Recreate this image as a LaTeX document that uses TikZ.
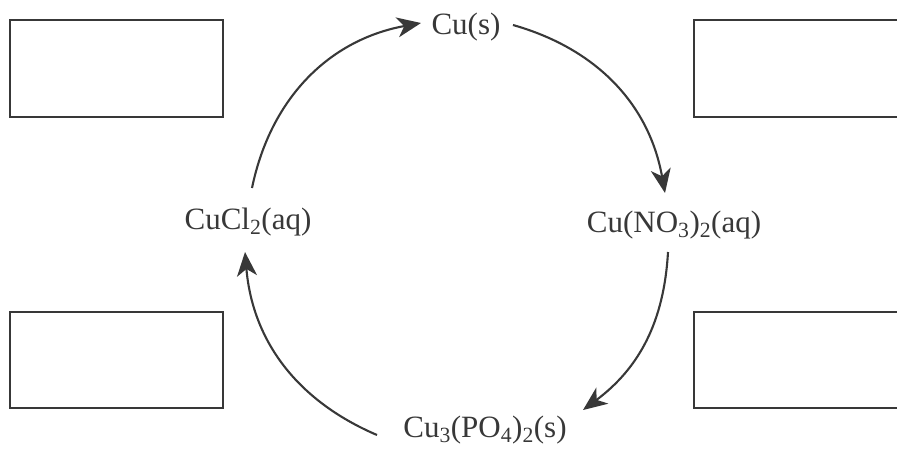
\documentclass[tikz,border=0pt]{standalone}
\usepackage{fontspec}
\setmainfont{Liberation Serif}
\usetikzlibrary{arrows.meta}
\definecolor{ink}{HTML}{383838}
\tikzset{
  chem/.style={anchor=base, inner sep=0pt, text=ink, font=\fontsize{31}{37}\selectfont},
  blank/.style={draw=ink, line width=1.9pt},
  cyc/.style={draw=ink, line width=2.1pt, -{Stealth[length=24pt,width=20pt,inset=7pt]}}
}
\begin{document}
\begin{tikzpicture}[x=1pt,y=-1pt]
\useasboundingbox (0,0) rectangle (897,450);
% answer boxes
\draw[blank] (10,20) rectangle (223,117);
\draw[blank] (694,20) rectangle (905,117);
\draw[blank] (10,312) rectangle (223,408);
\draw[blank] (694,312) rectangle (905,408);
% species
\node[chem] (cus) at (466,34) {Cu(s)};
\node[chem] (cuno) at (674,232) {Cu(NO\textsubscript{3})\textsubscript{2}(aq)};
\node[chem] (cupo) at (485,437) {Cu\textsubscript{3}(PO\textsubscript{4})\textsubscript{2}(s)};
\node[chem] (cucl) at (248,229) {CuCl\textsubscript{2}(aq)};
% arc end points
\coordinate (a1) at (252,188);
\coordinate (b1) at (421,23);
\coordinate (a2) at (513,25);
\coordinate (b2) at (665,193);
\coordinate (a3) at (668,252);
\coordinate (b3) at (583,410);
\coordinate (a4) at (377,435);
\coordinate (b4) at (245,252);
\draw[cyc] (a1) to[bend left=34] (b1);
\draw[cyc] (a2) to[bend left=32] (b2);
\draw[cyc] (a3) to[bend left=25] (b3);
\draw[cyc] (a4) to[bend left=31] (b4);
\end{tikzpicture}
\end{document}
